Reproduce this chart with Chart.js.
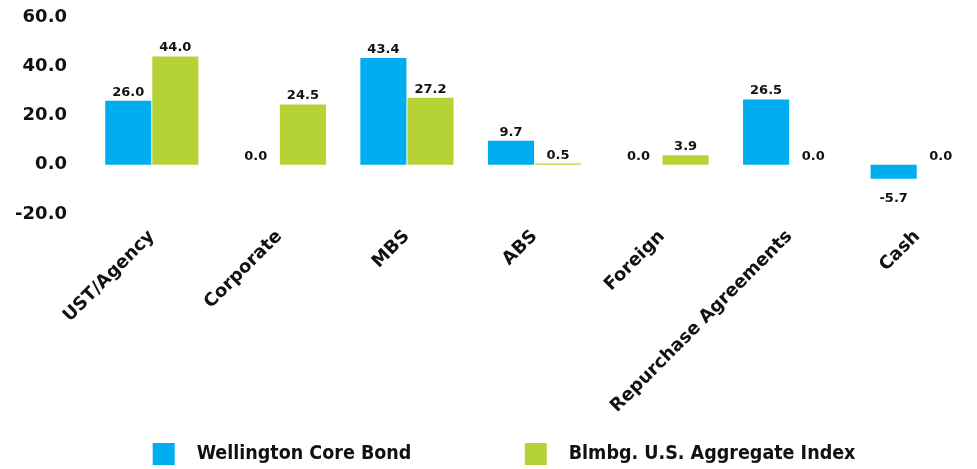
<!DOCTYPE html>
<html>
<head>
<meta charset="utf-8">
<script src="https://cdn.jsdelivr.net/npm/chart.js@4"></script>
<style>
    html, body { margin: 0; padding: 0; background: #fff; overflow: hidden; }
    .wrap { position: absolute; left: 0; top: 0; width: 984px; height: 469px; }
</style>
</head>
<body>
<div class="wrap"><canvas id="sectorChart"></canvas></div>
<script>
// Sector allocation data
const categories = ['UST/Agency', 'Corporate', 'MBS', 'ABS', 'Foreign', 'Repurchase Agreements', 'Cash'];
const wellington = [26.0, 0.0, 43.4, 9.7, 0.0, 26.5, -5.7];
const aggregate = [44.0, 24.5, 27.2, 0.5, 3.9, 0.0, 0.0];
const seriesNames = ['Wellington Core Bond', 'Blmbg. U.S. Aggregate Index'];
const yTicks = [-20, 0, 20, 40, 60];

const BLUE = '#00AEEF';
const GREEN = '#B5D334';

// Draw value labels above (or below) each bar
const valueLabels = {
    id: 'valueLabels',
    afterDatasetsDraw(chart) {
        const ctx = chart.ctx;
        ctx.save();
        ctx.font = 'bold 13px "DejaVu Sans"';
        ctx.fillStyle = '#111';
        ctx.textAlign = 'center';
        ctx.textBaseline = 'alphabetic';
        chart.data.datasets.forEach((ds, i) => {
            chart.getDatasetMeta(i).data.forEach((bar, j) => {
                const v = ds.data[j];
                const y = v < 0 ? bar.y + 23 : bar.y - 5;
                ctx.fillText(v.toFixed(1), bar.x, y);
            });
        });
        ctx.restore();
    }
};

document.addEventListener('DOMContentLoaded', function() {
    const ctx = document.getElementById('sectorChart').getContext('2d');
    new Chart(ctx, {
        type: 'bar',
        data: {
            labels: categories,
            datasets: [{
                label: seriesNames[0],
                data: wellington,
                backgroundColor: BLUE,
                categoryPercentage: 0.738,
                barPercentage: 0.979
            }, {
                label: seriesNames[1],
                data: aggregate,
                backgroundColor: GREEN,
                categoryPercentage: 0.738,
                barPercentage: 0.979
            }]
        },
        options: {
            responsive: true,
            maintainAspectRatio: false,
            animation: false,
            layout: { padding: { left: 15, right: 3, top: 17, bottom: -6 } },
            plugins: {
                tooltip: { enabled: false },
                legend: {
                    position: 'bottom',
                    align: 'end',
                    labels: {
                        color: '#111',
                        boxWidth: 22,
                        boxHeight: 22,
                        padding: 2,
                        font: { family: '"DejaVu Sans Condensed", "DejaVu Sans"', weight: 'bold', size: 19.5 },
                        generateLabels(chart) {
                            const items = Chart.defaults.plugins.legend.labels.generateLabels(chart);
                            const tails = ['\u2003\u2003\u2003\u2003\u2003\u2003 ', '\u2003\u2003\u2003\u2003\u2003\u2003   '];
                            items.forEach((it, i) => {
                                it.lineWidth = 0;
                                it.text = '  ' + it.text + tails[i];
                            });
                            return items;
                        }
                    }
                }
            },
            scales: {
                y: {
                    min: -20,
                    max: 60,
                    afterBuildTicks(axis) {
                        axis.ticks = yTicks.map(v => ({ value: v }));
                    },
                    afterFit(axis) {
                        axis.width = 73;
                        axis.paddingTop = 0;
                        axis.paddingBottom = 0;
                    },
                    grid: { display: false, drawTicks: false },
                    border: { display: false },
                    ticks: {
                        padding: 21,
                        color: '#111',
                        font: { family: '"DejaVu Sans"', weight: 'bold', size: 18 },
                        callback: v => Number(v).toFixed(1)
                    }
                },
                x: {
                    afterFit(axis) {
                        axis.paddingLeft = 0;
                        axis.paddingRight = 0;
                        axis.height = 227;
                    },
                    grid: { display: false, drawTicks: false },
                    border: { display: false },
                    ticks: {
                        padding: 12,
                        minRotation: 45,
                        maxRotation: 45,
                        color: '#111',
                        font: { family: '"DejaVu Sans"', weight: 'bold', size: 18 }
                    }
                }
            }
        },
        plugins: [valueLabels]
    });
});
</script>
</body>
</html>
